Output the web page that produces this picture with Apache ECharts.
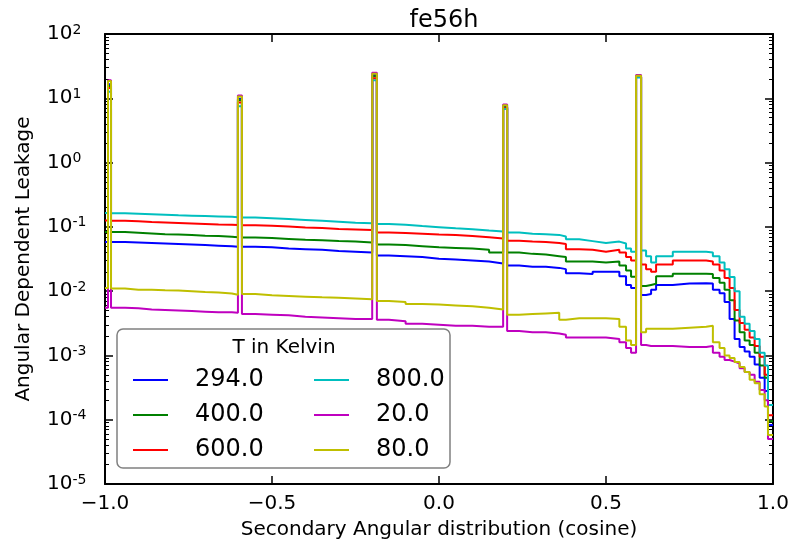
<!DOCTYPE html>
<html>
<head>
<meta charset="utf-8">
<script src="https://cdn.jsdelivr.net/npm/echarts@6/dist/echarts.min.js"></script>
<style>
  html, body { margin: 0; padding: 0; background: #fff; }
  #chart { width: 796px; height: 550px; }
</style>
</head>
<body>
<div id="chart"></div>
<script>
// left edge of each bin (cosine); the last bin runs to 1.0
const edges = [
  -1.000, -0.991, -0.982, -0.94, -0.90, -0.86, -0.82, -0.78, -0.74, -0.70,
  -0.66, -0.62, -0.602, -0.590, -0.55, -0.50, -0.45, -0.40, -0.35, -0.30,
  -0.25, -0.200, -0.186, -0.15, -0.10, -0.05, 0.00, 0.05, 0.10, 0.15,
  0.192, 0.204, 0.24, 0.28, 0.32, 0.36, 0.38, 0.42, 0.46, 0.50,
  0.54, 0.56, 0.575, 0.590, 0.605, 0.62, 0.635, 0.65, 0.70, 0.75,
  0.80, 0.82, 0.84, 0.855, 0.87, 0.885, 0.90, 0.915, 0.93, 0.945,
  0.96, 0.975, 0.985
];
const xEnd = 1.0;

const t294 = [
  0.058, 16.6, 0.058, 0.057, 0.056, 0.055, 0.054, 0.053, 0.052, 0.051,
  0.050, 0.049, 9.8, 0.049, 0.048, 0.046, 0.045, 0.044, 0.042, 0.041,
  0.040, 23, 0.036, 0.035, 0.034, 0.032, 0.031, 0.030, 0.029, 0.027,
  7.3, 0.025, 0.024, 0.024, 0.023, 0.022, 0.019, 0.0185, 0.020, 0.020,
  0.017, 0.0125, 0.0112, 21.5, 0.0087, 0.0090, 0.0105, 0.0125, 0.0132, 0.0133,
  0.0132, 0.0105, 0.0093, 0.0068, 0.0037, 0.0018, 0.00135, 0.00115, 0.00095, 0.00072,
  0.00045, 0.00028, 0.000083
];
const t400 = [
  0.083, 15.5, 0.083, 0.081, 0.079, 0.077, 0.076, 0.075, 0.073, 0.072,
  0.070, 0.069, 9.3, 0.068, 0.067, 0.065, 0.063, 0.062, 0.060, 0.059,
  0.057, 22, 0.053, 0.052, 0.050, 0.048, 0.047, 0.046, 0.044, 0.040,
  7.2, 0.040, 0.038, 0.037, 0.035, 0.034, 0.029, 0.029, 0.028, 0.029,
  0.025, 0.021, 0.0168, 21.5, 0.012, 0.0125, 0.013, 0.017, 0.0186, 0.0186,
  0.0185, 0.016, 0.0135, 0.0105, 0.0072, 0.0035, 0.0023, 0.0017, 0.00145, 0.0011,
  0.0007, 0.00045, 0.000095
];
const t600 = [
  0.126, 14.5, 0.125, 0.122, 0.119, 0.117, 0.115, 0.113, 0.111, 0.109,
  0.108, 0.107, 8.6, 0.106, 0.104, 0.101, 0.098, 0.096, 0.093, 0.091,
  0.089, 20.5, 0.082, 0.080, 0.078, 0.076, 0.075, 0.072, 0.069, 0.066,
  7.0, 0.061, 0.059, 0.058, 0.056, 0.054, 0.045, 0.044, 0.041, 0.044,
  0.040, 0.034, 0.030, 21.5, 0.026, 0.022, 0.020, 0.026, 0.030, 0.030,
  0.029, 0.026, 0.021, 0.016, 0.0112, 0.0051, 0.0032, 0.0025, 0.0019, 0.0014,
  0.00095, 0.0005, 0.000117
];
const t800 = [
  0.164, 12.6, 0.163, 0.160, 0.157, 0.154, 0.151, 0.149, 0.147, 0.145,
  0.143, 0.141, 7.5, 0.140, 0.136, 0.132, 0.128, 0.124, 0.120, 0.116,
  0.114, 19, 0.111, 0.108, 0.103, 0.099, 0.095, 0.092, 0.088, 0.085,
  6.8, 0.082, 0.078, 0.077, 0.075, 0.071, 0.064, 0.060, 0.056, 0.059,
  0.055, 0.046, 0.041, 21, 0.043, 0.035, 0.028, 0.035, 0.041, 0.041,
  0.040, 0.035, 0.028, 0.022, 0.0166, 0.010, 0.0040, 0.0031, 0.0024, 0.0018,
  0.0011, 0.0007, 0.00017
];
const t20 = [
  0.0055, 19, 0.0055, 0.0054, 0.0052, 0.0051, 0.0050, 0.0049, 0.0048, 0.0047,
  0.0047, 0.0046, 11, 0.0044, 0.0043, 0.0042, 0.0040, 0.0039, 0.0038, 0.0037,
  0.0037, 25, 0.0036, 0.0034, 0.0031, 0.0030, 0.0029, 0.0029, 0.0028, 0.0028,
  8.0, 0.0024, 0.0023, 0.0023, 0.0022, 0.0021, 0.0019, 0.0019, 0.0019, 0.0018,
  0.0016, 0.0013, 0.0011, 23, 0.00145, 0.0014, 0.0014, 0.0014, 0.00135, 0.00135,
  0.0014, 0.0011, 0.00095, 0.00085, 0.00080, 0.00075, 0.00063, 0.00055, 0.00050, 0.00039,
  0.00029, 0.00020, 0.00005
];
const t80 = [
  0.0112, 18.5, 0.0110, 0.0105, 0.0105, 0.0103, 0.0102, 0.0100, 0.0097, 0.0095,
  0.0092, 0.0088, 10.7, 0.0090, 0.0086, 0.0084, 0.0082, 0.0080, 0.0079, 0.0077,
  0.0075, 24, 0.0070, 0.0068, 0.0063, 0.0062, 0.0060, 0.0058, 0.0055, 0.0052,
  7.8, 0.0043, 0.0044, 0.0045, 0.0046, 0.0036, 0.0038, 0.0038, 0.0038, 0.0037,
  0.0028, 0.0017, 0.00145, 22.5, 0.0023, 0.0026, 0.0026, 0.0026, 0.0027, 0.0028,
  0.0029, 0.0016, 0.0013, 0.0010, 0.00091, 0.00079, 0.00066, 0.00055, 0.00042, 0.00037,
  0.00025, 0.00016, 0.000058
];

const names = ['294.0', '400.0', '600.0', '800.0', '20.0', '80.0'];
const values = [t294, t400, t600, t800, t20, t80];
const colors = ['#0000ff', '#008000', '#ff0000', '#00bfbf', '#bf00bf', '#bfbf00'];

const FONT = 'DejaVu Sans';

// minor ticks of the log axis: 2..9 in every decade
let yMinor = [];
for (let d = -5; d < 2; d++) {
  for (let k = 2; k <= 9; k++) yMinor.push(k * Math.pow(10, d));
}

function stepData(vals) {
  let pts = edges.map((x, i) => [x, vals[i]]);
  pts.push([xEnd, vals[vals.length - 1]]);
  return pts;
}

let series = names.map((n, i) => ({
  name: n,
  type: 'line',
  step: 'end',
  showSymbol: false,
  symbol: 'none',
  color: colors[i],
  lineStyle: { width: 2, color: colors[i] },
  data: stepData(values[i])
}));

let chart = echarts.init(document.getElementById('chart'));

const tickStyle = { color: '#000', width: 1.5 };
const frameLine = { show: true, onZero: false, lineStyle: { color: '#000', width: 2 } };
const legendText = {
  fontSize: 24, fontFamily: FONT, color: '#000',
  padding: [0, 0, 0, 22], lineHeight: 24
};

chart.setOption({
  animation: false,
  backgroundColor: '#fff',
  title: {
    text: 'fe56h',
    left: 439, top: 4,
    textAlign: 'center',
    textStyle: { fontSize: 24, fontWeight: 'normal', fontFamily: FONT, color: '#000' }
  },
  grid: { left: 105, right: 23, top: 34, bottom: 66 },
  xAxis: [{
    type: 'value', min: -1, max: 1, interval: 0.5,
    name: 'Secondary Angular distribution (cosine)',
    nameLocation: 'middle', nameGap: 36,
    nameTextStyle: { fontSize: 20, fontFamily: FONT, color: '#000' },
    axisLine: frameLine,
    axisTick: { show: true, inside: true, length: 8, lineStyle: tickStyle },
    axisLabel: {
      margin: 10, fontSize: 20, fontFamily: FONT, color: '#000',
      formatter: v => v.toFixed(1).replace('-', '\u2212')
    },
    splitLine: { show: false }
  }, {
    type: 'value', min: -1, max: 1, interval: 0.5, position: 'top',
    axisLine: frameLine,
    axisTick: { show: true, inside: true, length: 8, lineStyle: tickStyle },
    axisLabel: { show: false },
    splitLine: { show: false }
  }],
  yAxis: [{
    type: 'log', logBase: 10, min: 1e-5, max: 1e2, splitNumber: 7, position: 'left',
    name: 'Angular Dependent Leakage',
    nameLocation: 'middle', nameGap: 71, nameRotate: 90,
    nameTextStyle: { fontSize: 20, fontFamily: FONT, color: '#000' },
    axisLine: frameLine,
    axisTick: { show: true, inside: true, length: 8, lineStyle: tickStyle },
    axisLabel: {
      margin: 58, align: 'left',
      formatter: v => '{b|10}{s|' + Math.round(Math.log10(v)) + '}',
      rich: {
        b: { fontSize: 20, fontFamily: FONT, color: '#000', lineHeight: 22 },
        s: { fontSize: 14, fontFamily: FONT, color: '#000', verticalAlign: 'top', lineHeight: 14 }
      }
    },
    splitLine: { show: false }
  }, {
    type: 'log', logBase: 10, min: 1e-5, max: 1e2, splitNumber: 7, position: 'right',
    axisLine: frameLine,
    axisTick: { show: true, inside: true, length: 8, lineStyle: tickStyle },
    axisLabel: { show: false },
    splitLine: { show: false }
  }, {
    type: 'log', logBase: 10, min: 1e-5, max: 1e2, position: 'left',
    axisLine: { show: false, onZero: false },
    axisTick: { show: true, inside: true, length: 4, lineStyle: { color: '#000', width: 1 }, customValues: yMinor },
    axisLabel: { show: false },
    splitLine: { show: false }
  }, {
    type: 'log', logBase: 10, min: 1e-5, max: 1e2, position: 'right',
    axisLine: { show: false, onZero: false },
    axisTick: { show: true, inside: true, length: 4, lineStyle: { color: '#000', width: 1 }, customValues: yMinor },
    axisLabel: { show: false },
    splitLine: { show: false }
  }],
  legend: [{
    data: names.slice(0, 3),
    orient: 'vertical', left: 133, top: 368, padding: 0,
    itemWidth: 35, itemHeight: 2, itemGap: 11, icon: 'rect',
    selectedMode: false, z: 20,
    textStyle: legendText
  }, {
    data: names.slice(3),
    orient: 'vertical', left: 314, top: 368, padding: 0,
    itemWidth: 35, itemHeight: 2, itemGap: 11, icon: 'rect',
    selectedMode: false, z: 20,
    textStyle: legendText
  }],
  graphic: [{
    type: 'rect', z: 10,
    shape: { x: 117, y: 329, width: 333, height: 139, r: 6 },
    style: { fill: '#fff', stroke: '#808080', lineWidth: 1.5 }
  }, {
    type: 'text', z: 11, x: 284, y: 348,
    style: {
      text: 'T in Kelvin', font: '20px "DejaVu Sans"', fill: '#000',
      align: 'center', verticalAlign: 'middle'
    }
  }],
  series: series
});
</script>
</body>
</html>
